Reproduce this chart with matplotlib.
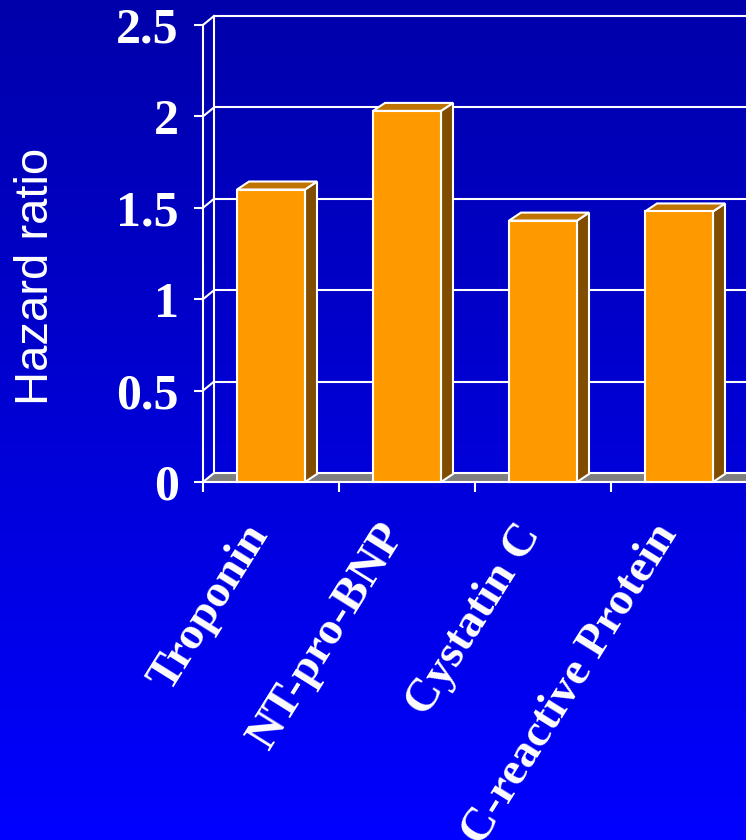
import numpy as np
import matplotlib
matplotlib.use("Agg")
import matplotlib.pyplot as plt
from matplotlib.patches import Polygon
from matplotlib.transforms import ScaledTranslation

# ---- data -------------------------------------------------------------
categories = ["Troponin", "NT-pro-BNP", "Cystatin C", "C-reactive Protein"]
hazard_ratio = [1.60, 2.03, 1.43, 1.48]
y_ticks = [0, 0.5, 1, 1.5, 2, 2.5]
y_tick_labels = ["0", "0.5", "1", "1.5", "2", "2.5"]

# ---- styling ----------------------------------------------------------
W, H, DPI = 746, 840, 100
FRONT = "#FF9900"
TOP = "#C07400"
SIDE = "#7F4C00"
FLOOR = "#808080"
LINE = "white"
LW = 1.5
WALL_DX, WALL_DY = 11, 9     # depth of the 3-D box, pixels
BAR_DX, BAR_DY = 12, 8       # depth of each column, pixels
BAR_WIDTH = 0.5

fig = plt.figure(figsize=(W / DPI, H / DPI), dpi=DPI)

# vertical blue gradient behind everything
bg = fig.add_axes([0, 0, 1, 1], zorder=0)
grad = np.linspace(0, 1, 256).reshape(-1, 1)
rgb = np.zeros((256, 1, 3))
rgb[..., 2] = (170 + 85 * grad) / 255.0
bg.imshow(rgb, aspect="auto", extent=[0, 1, 1, 0])
bg.set_axis_off()

# main plot area: front plane of the 3-D box
left_px, bottom_px, top_px = 203, 482, 25
n = len(categories)
ax = fig.add_axes([left_px / W, (H - bottom_px) / H,
                   (136 * n) / W, (bottom_px - top_px) / H], zorder=1)
ax.set_xlim(0, n)
ax.set_ylim(0, 2.5)
ax.patch.set_alpha(0)

# depth offsets converted into data units
pos = ax.get_position()
x_per_px = (n - 0) / (pos.width * W)
y_per_px = 2.5 / (pos.height * H)
wdx, wdy = WALL_DX * x_per_px, WALL_DY * y_per_px
bdx, bdy = BAR_DX * x_per_px, BAR_DY * y_per_px
x_far = n + 1

# floor
ax.add_patch(Polygon([(0, 0), (x_far, 0), (x_far + wdx, wdy), (wdx, wdy)],
                     closed=True, facecolor=FLOOR, edgecolor="none",
                     zorder=1, clip_on=False))

# back wall gridlines, back-left edge and left-wall connectors
for v in y_ticks:
    ax.plot([wdx, x_far], [v + wdy, v + wdy], color=LINE, lw=LW,
            zorder=2, clip_on=False, solid_capstyle="butt")
    ax.plot([0, wdx], [v, v + wdy], color=LINE, lw=LW, zorder=2,
            clip_on=False)
ax.plot([wdx, wdx], [wdy, 2.5 + wdy], color=LINE, lw=LW, zorder=2,
        clip_on=False)

# columns
centers = np.arange(n) + 0.5
for c, h in zip(centers, hazard_ratio):
    x0, x1 = c - BAR_WIDTH / 2, c + BAR_WIDTH / 2
    ax.add_patch(Polygon([(x1, 0), (x1 + bdx, bdy), (x1 + bdx, h + bdy), (x1, h)],
                         closed=True, facecolor=SIDE, edgecolor=LINE, lw=LW,
                         zorder=3, clip_on=False, joinstyle="miter"))
    ax.add_patch(Polygon([(x0, h), (x1, h), (x1 + bdx, h + bdy), (x0 + bdx, h + bdy)],
                         closed=True, facecolor=TOP, edgecolor=LINE, lw=LW,
                         zorder=3, clip_on=False, joinstyle="miter"))
ax.bar(centers, hazard_ratio, width=BAR_WIDTH, color=FRONT,
       edgecolor=LINE, linewidth=LW, zorder=4, clip_on=False)

# front axes
for side in ("top", "right"):
    ax.spines[side].set_visible(False)
for side in ("left", "bottom"):
    ax.spines[side].set_color(LINE)
    ax.spines[side].set_linewidth(LW)
    ax.spines[side].set_zorder(5)
ax.spines["bottom"].set_bounds(0, x_far)

ax.set_yticks(y_ticks)
ax.set_yticklabels(y_tick_labels)
ax.tick_params(axis="y", which="major", direction="out", length=9 * 72 / DPI,
               width=LW, color=LINE, pad=11, labelcolor="white")
for lab in ax.get_yticklabels():
    lab.set_fontfamily("Liberation Serif")
    lab.set_fontweight("bold")
    lab.set_fontsize(36)

ax.set_xticks(np.arange(0, n + 1))
ax.set_xticklabels([])
ax.tick_params(axis="x", which="major", direction="out", length=10 * 72 / DPI,
               width=LW, color=LINE)
ax.set_xticks(centers, minor=True)
ax.set_xticklabels(categories, minor=True)
ax.tick_params(axis="x", which="minor", length=0, pad=33, labelcolor="white")
shift = ScaledTranslation(-0.11, 0, fig.dpi_scale_trans)
for lab in ax.get_xticklabels(minor=True):
    lab.set_fontfamily("Liberation Serif")
    lab.set_fontweight("bold")
    lab.set_fontsize(34)
    lab.set_rotation(58)
    lab.set_rotation_mode("anchor")
    lab.set_ha("right")
    lab.set_va("center")
    lab.set_transform(lab.get_transform() + shift)

fig.text(36.5 / W, 1 - 276.5 / H, "Hazard ratio", rotation=90,
         ha="center", va="center", color="white",
         fontfamily="Liberation Sans", fontsize=34)

fig.savefig("out.png", dpi=DPI)
